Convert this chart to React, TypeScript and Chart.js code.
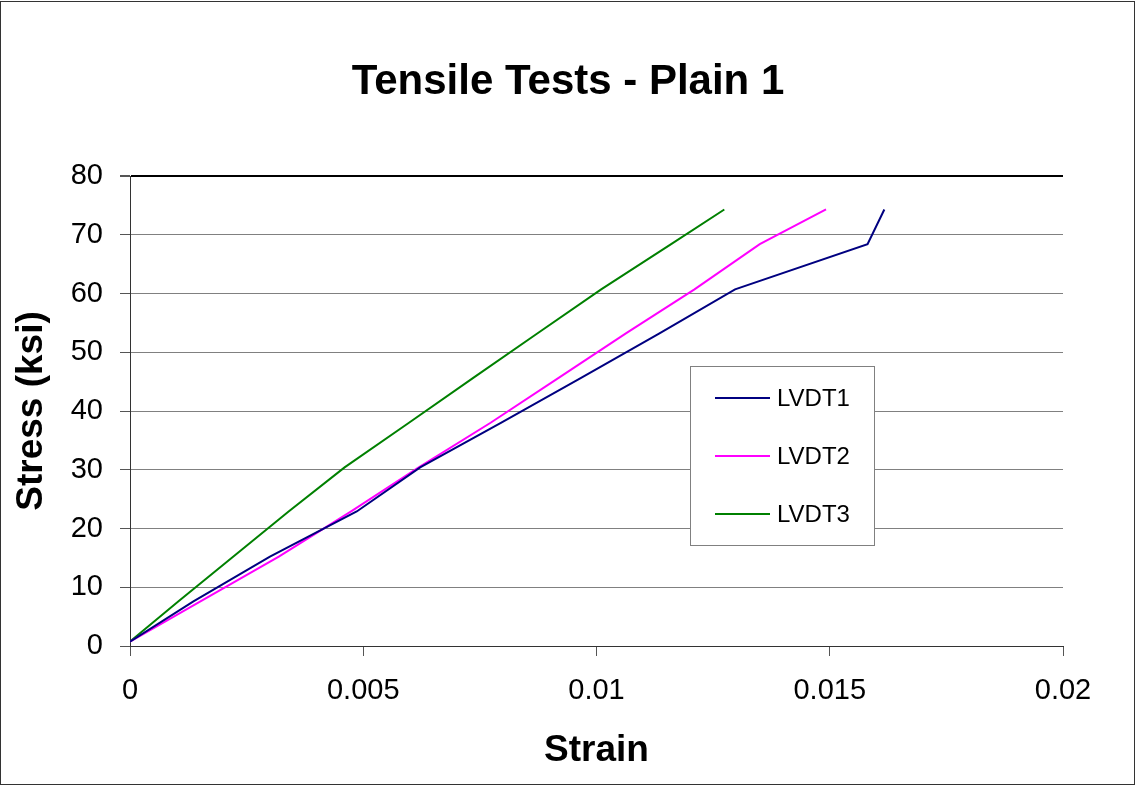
import React, { useEffect, useRef } from "react";
import { Chart, registerables } from "chart.js";

Chart.register(...registerables);

const seriesNames = ["LVDT1", "LVDT2", "LVDT3"];
const seriesColors = ["#000080", "#FF00FF", "#008000"];
const stressLevels = [0.75, 7.6, 15.2, 22.9, 30.4, 38.0, 45.6, 53.2, 60.7, 68.4, 74.3];
const strainLVDT1 = [0, 0.00136, 0.003, 0.00486, 0.00622, 0.00795, 0.00966, 0.01135, 0.01297, 0.01581, 0.01617];
const strainLVDT2 = [0, 0.00151, 0.00319, 0.00474, 0.00619, 0.00773, 0.00918, 0.01063, 0.0121, 0.0135, 0.01492];
const strainLVDT3 = [0, 0.00104, 0.00221, 0.0034, 0.0046, 0.00598, 0.00735, 0.00873, 0.0101, 0.0116, 0.01274];
const xTickValues = [0, 0.005, 0.01, 0.015, 0.02];
const xTickLabels = ["0", "0.005", "0.01", "0.015", "0.02"];
const yTickLabels = ["0", "10", "20", "30", "40", "50", "60", "70", "80"];

const FONT = "'Liberation Sans', Arial, Helvetica, sans-serif";

export default function App() {
  const ref = useRef<HTMLCanvasElement | null>(null);

  useEffect(() => {
    document.body.style.margin = "0";
    const canvas = ref.current;
    if (!canvas) return;
    const strains = [strainLVDT1, strainLVDT2, strainLVDT3];

    const legendPlugin = {
      id: "boxLegend",
      afterDraw(chart: any) {
        const ctx = chart.ctx;
        const ca = chart.chartArea;
        const bx = ca.left + 560;
        const by = ca.top + 190;
        const bw = 184;
        const bh = 179;
        ctx.save();
        ctx.fillStyle = "#fff";
        ctx.fillRect(bx, by, bw, bh);
        ctx.strokeStyle = "#808080";
        ctx.lineWidth = 1;
        ctx.strokeRect(bx + 0.5, by + 0.5, bw, bh);
        ctx.font = `24px ${FONT}`;
        ctx.textBaseline = "middle";
        ctx.textAlign = "left";
        chart.data.datasets.forEach((ds: any, i: number) => {
          const y = by + 32 + i * 58;
          ctx.strokeStyle = ds.borderColor;
          ctx.lineWidth = 2;
          ctx.beginPath();
          ctx.moveTo(bx + 25, y);
          ctx.lineTo(bx + 80, y);
          ctx.stroke();
          ctx.fillStyle = "#000";
          ctx.fillText(ds.label, bx + 87, y + 1);
        });
        ctx.strokeStyle = "#333";
        ctx.lineWidth = 1;
        ctx.strokeRect(0.5, 1.5, chart.width - 2, chart.height - 3);
        ctx.restore();
      },
    };

    const chart = new Chart(canvas, {
      type: "scatter",
      data: {
        datasets: seriesNames.map((name, i) => ({
          label: name,
          data: strains[i].map((s, j) => ({ x: s, y: stressLevels[j] })),
          showLine: true,
          borderColor: seriesColors[i],
          backgroundColor: seriesColors[i],
          borderWidth: 2,
          pointRadius: 0,
          tension: 0,
        })),
      },
      options: {
        animation: false,
        responsive: false,
        devicePixelRatio: 1,
        layout: { padding: 0 },
        plugins: {
          legend: { display: false },
          tooltip: { enabled: false },
          title: {
            display: true,
            text: "Tensile Tests - Plain 1",
            color: "#000",
            font: { family: FONT, size: 42, weight: "bold" },
            padding: { top: 57, bottom: 68.6 },
          },
        },
        scales: {
          x: {
            type: "linear",
            min: 0,
            max: 0.02,
            afterBuildTicks(scale: any) {
              scale.ticks = xTickValues.map((v) => ({ value: v }));
            },
            afterFit(scale: any) {
              scale.height = 140;
              scale.paddingLeft = 0;
              scale.paddingRight = 0;
            },
            ticks: {
              color: "#000",
              font: { family: FONT, size: 29 },
              padding: 18,
              maxRotation: 0,
              callback: (v: any) => {
                const idx = xTickValues.findIndex((t) => Math.abs(t - v) < 1e-9);
                return idx >= 0 ? xTickLabels[idx] : "";
              },
            },
            grid: {
              drawOnChartArea: false,
              drawTicks: true,
              tickLength: 10,
              tickColor: "#555",
            },
            border: { display: true, color: "#333", width: 1 },
            title: {
              display: true,
              text: "Strain",
              color: "#000",
              font: { family: FONT, size: 37, weight: "bold" },
              padding: { top: 0, bottom: 13 },
            },
          },
          y: {
            type: "linear",
            position: "left",
            min: 0,
            max: 80,
            afterFit(scale: any) {
              scale.width = 130;
              scale.paddingTop = 0;
              scale.paddingBottom = 0;
            },
            ticks: {
              stepSize: 10,
              color: "#000",
              font: { family: FONT, size: 29 },
              padding: 17,
              callback: (v: any) => {
                const idx = Math.round(Number(v) / 10);
                return yTickLabels[idx] ?? "";
              },
            },
            grid: {
              color: (c: any) => (c.tick && c.tick.value === 80 ? "#000" : "#808080"),
              lineWidth: (c: any) => (c.tick && c.tick.value === 80 ? 2 : 1),
              tickLength: 10,
              tickColor: "#555",
            },
            border: { display: true, color: "#333", width: 1 },
            title: {
              display: true,
              text: "Stress (ksi)",
              color: "#000",
              font: { family: FONT, size: 37, weight: "bold" },
              padding: { top: 10, bottom: 0 },
            },
          },
          yRight: {
            type: "linear",
            position: "right",
            min: 0,
            max: 80,
            afterFit(scale: any) {
              scale.width = 73;
              scale.paddingTop = 0;
              scale.paddingBottom = 0;
            },
            ticks: { display: false },
            grid: { display: false, drawTicks: false },
            border: { display: false },
            title: { display: false },
          },
        },
      },
      plugins: [legendPlugin],
    } as any);

    return () => {
      chart.destroy();
    };
  }, []);

  return (
    <div style={{ width: 1136, height: 786 }}>
      <canvas ref={ref} width={1136} height={786} style={{ display: "block" }} />
    </div>
  );
}
